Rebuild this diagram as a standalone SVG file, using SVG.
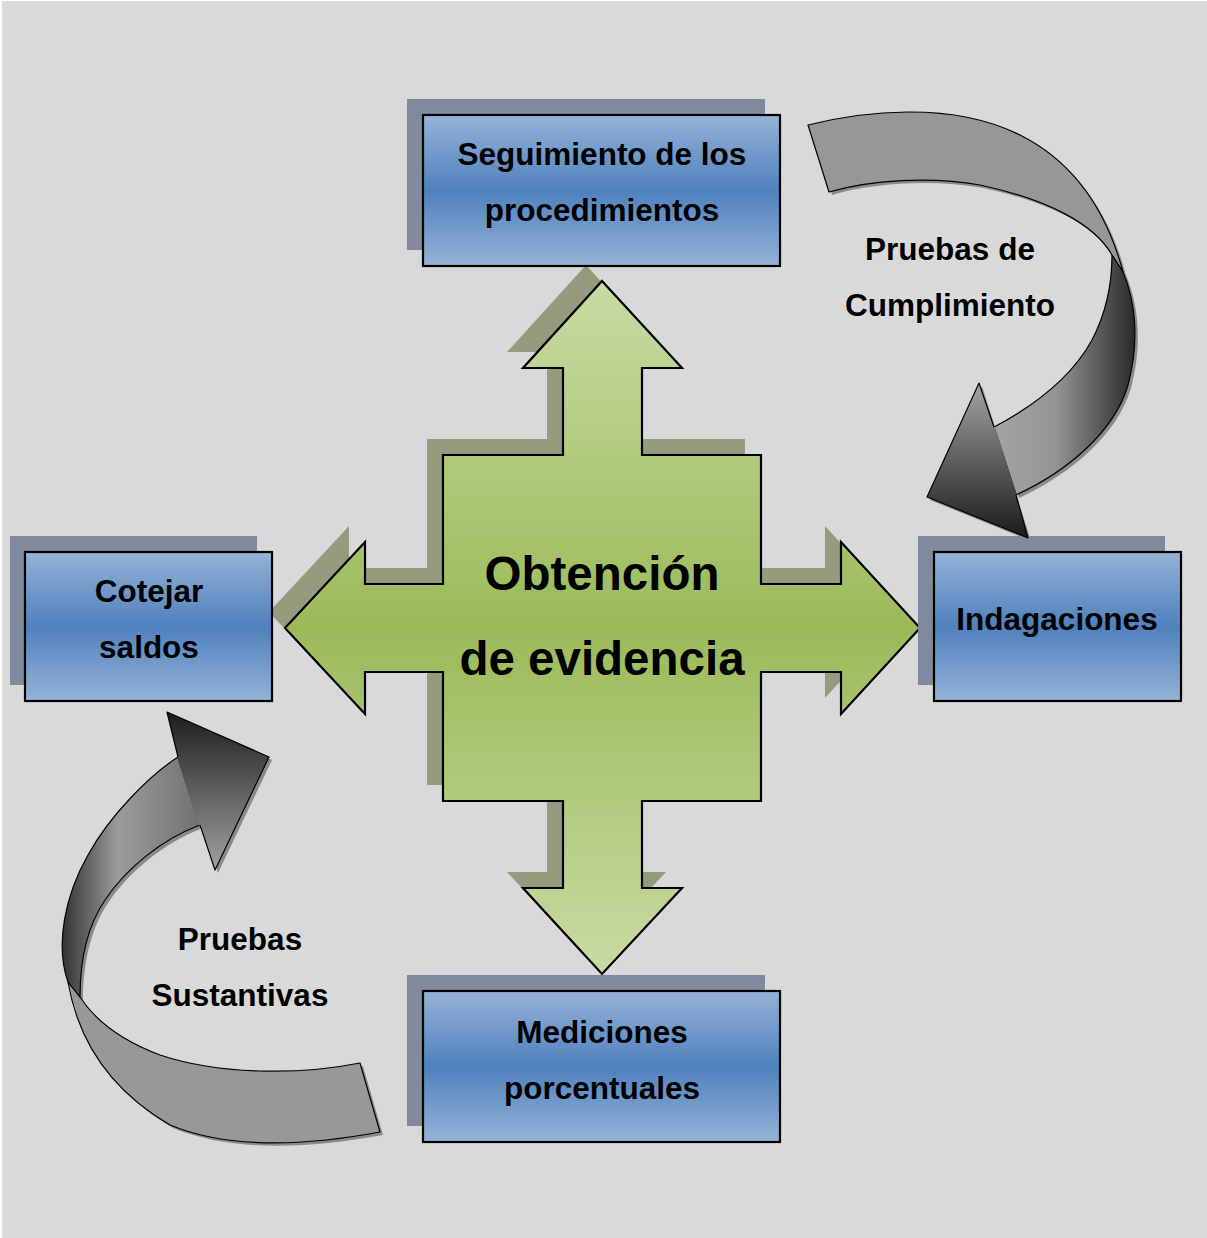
<svg xmlns="http://www.w3.org/2000/svg" width="1207" height="1238" viewBox="0 0 1207 1238">
<defs>
<style>
.lbl{font-family:"Liberation Sans",Arial,sans-serif;font-weight:bold;font-size:31.5px;fill:#000;text-anchor:middle}
.big{font-family:"Liberation Sans",Arial,sans-serif;font-weight:bold;font-size:47.5px;fill:#000;text-anchor:middle}
.box{stroke:#000;stroke-width:2.2}
.bshadow{fill:#7f8a9c}
.cur{stroke:#000;stroke-width:1.2;stroke-linejoin:round}
.csh{fill:#8a8a8a}
</style>
<linearGradient id="gTop" x1="0" y1="0" x2="0" y2="1">
<stop offset="0" stop-color="#95b3d7"/><stop offset="0.5" stop-color="#4f81bd"/><stop offset="1" stop-color="#95b3d7"/>
</linearGradient>
<linearGradient id="gGreen" gradientUnits="userSpaceOnUse" x1="0" y1="281" x2="0" y2="974">
<stop offset="0" stop-color="#c8dba3"/><stop offset="0.5" stop-color="#9bbb59"/><stop offset="1" stop-color="#c8dba3"/>
</linearGradient>
<linearGradient id="gTRband" gradientUnits="userSpaceOnUse" x1="1000" y1="0" x2="1138" y2="0">
<stop offset="0" stop-color="#a2a2a2"/><stop offset="0.4" stop-color="#959595"/><stop offset="1" stop-color="#262626"/>
</linearGradient>
<linearGradient id="gTRhead" gradientUnits="userSpaceOnUse" x1="0" y1="383" x2="0" y2="538">
<stop offset="0" stop-color="#a4a4a4"/><stop offset="1" stop-color="#1a1a1a"/>
</linearGradient>
<linearGradient id="gBLband" gradientUnits="userSpaceOnUse" x1="55" y1="0" x2="205" y2="0">
<stop offset="0" stop-color="#262626"/><stop offset="0.42" stop-color="#9c9c9c"/><stop offset="1" stop-color="#6e6e6e"/>
</linearGradient>
<linearGradient id="gBLhead" gradientUnits="userSpaceOnUse" x1="0" y1="712" x2="0" y2="870">
<stop offset="0" stop-color="#1c1c1c"/><stop offset="1" stop-color="#a2a2a2"/>
</linearGradient>
</defs>

<rect x="0" y="0" width="1207" height="1238" fill="#ffffff"/>
<rect x="2" y="1" width="1205" height="1237" fill="#d9d9d9"/>

<g id="node-center">
<polygon transform="translate(-16,-16)" fill="#959c7e" points="602,281 682,368 642,368 642,455 761,455 761,584 841,584 841,542 920,628 841,714 841,672 761,672 761,801 642,801 642,888 682,888 602,974 523,888 563,888 563,801 443,801 443,672 365,672 365,714 285,628 365,542 365,584 443,584 443,455 563,455 563,368 523,368"/>
<polygon fill="url(#gGreen)" stroke="#000" stroke-width="2.2" stroke-linejoin="miter" points="602,281 682,368 642,368 642,455 761,455 761,584 841,584 841,542 920,628 841,714 841,672 761,672 761,801 642,801 642,888 682,888 602,974 523,888 563,888 563,801 443,801 443,672 365,672 365,714 285,628 365,542 365,584 443,584 443,455 563,455 563,368 523,368"/>
<text class="big" x="602" y="590">Obtención</text>
<text class="big" x="602" y="675">de evidencia</text>
</g>

<g id="node-seguimiento">
<rect class="bshadow" x="407" y="99" width="358" height="151"/>
<rect class="box" x="423" y="115" width="357" height="151" fill="url(#gTop)"/>
<text class="lbl" x="602" y="165">Seguimiento de los</text>
<text class="lbl" x="602" y="221">procedimientos</text>
</g>

<g id="node-cotejar">
<rect class="bshadow" x="10" y="536" width="247" height="149"/>
<rect class="box" x="25" y="552" width="247" height="149" fill="url(#gTop)"/>
<text class="lbl" x="149" y="602">Cotejar</text>
<text class="lbl" x="149" y="658">saldos</text>
</g>

<g id="node-indagaciones">
<rect class="bshadow" x="918" y="536" width="247" height="149"/>
<rect class="box" x="934" y="552" width="247" height="149" fill="url(#gTop)"/>
<text class="lbl" x="1057" y="630">Indagaciones</text>
</g>

<g id="node-mediciones">
<rect class="bshadow" x="407" y="975" width="358" height="151"/>
<rect class="box" x="423" y="991" width="357" height="151" fill="url(#gTop)"/>
<text class="lbl" x="602" y="1043">Mediciones</text>
<text class="lbl" x="602" y="1099">porcentuales</text>
</g>

<g id="connectors">
<g id="arrow-cumplimiento">
<g transform="translate(3,3)" class="csh">
<path d="M808,125 C860,112 950,100 1020,135 C1070,160 1105,205 1123,272 L1112,255 C1095,225 1050,200 980,185 C930,176 870,180 829,192 Z"/>
<path d="M1112,255 L1123,272 C1135,300 1140,340 1128,385 C1115,430 1070,470 1016,495 L994,427 C1030,408 1070,380 1092,340 C1105,315 1112,285 1112,255 Z"/>
<polygon points="979,383 927,497 1028,538"/>
</g>
<path class="cur" fill="#979797" d="M808,125 C860,112 950,100 1020,135 C1070,160 1105,205 1123,272 L1112,255 C1095,225 1050,200 980,185 C930,176 870,180 829,192 Z"/>
<path class="cur" fill="url(#gTRband)" d="M1112,255 L1123,272 C1135,300 1140,340 1128,385 C1115,430 1070,470 1016,495 L994,427 C1030,408 1070,380 1092,340 C1105,315 1112,285 1112,255 Z"/>
<polygon class="cur" fill="url(#gTRhead)" points="979,383 994,427 1016,495 1028,538 927,497"/>
<path d="M994,427 L1016,495" stroke="url(#gTRhead)" stroke-width="2"/>
</g>
<g id="arrow-sustantivas">
<g transform="translate(3,3)" class="csh">
<path d="M178,757 C150,775 110,815 88,855 C65,895 55,945 68,982 L80,997 C80,960 88,925 105,900 C125,870 160,840 200,825 Z"/>
<path d="M68,982 C78,1040 110,1090 170,1125 C230,1150 310,1145 380,1132 L360,1063 C300,1075 220,1075 160,1055 C120,1040 95,1020 80,997 Z"/>
<polygon points="167,712 269,757 215,870"/>
</g>
<path class="cur" fill="#989898" d="M68,982 C78,1040 110,1090 170,1125 C230,1150 310,1145 380,1132 L360,1063 C300,1075 220,1075 160,1055 C120,1040 95,1020 80,997 Z"/>
<path class="cur" fill="url(#gBLband)" d="M178,757 C150,775 110,815 88,855 C65,895 55,945 68,982 L80,997 C80,960 88,925 105,900 C125,870 160,840 200,825 Z"/>
<polygon class="cur" fill="url(#gBLhead)" points="167,712 269,757 215,870 200,825 178,757"/>
<path d="M178,757 L200,825" stroke="url(#gBLhead)" stroke-width="2"/>
</g>
<text class="lbl" x="950" y="260">Pruebas de</text>
<text class="lbl" x="950" y="316">Cumplimiento</text>
<text class="lbl" x="240" y="950">Pruebas</text>
<text class="lbl" x="240" y="1006">Sustantivas</text>
</g>
</svg>
